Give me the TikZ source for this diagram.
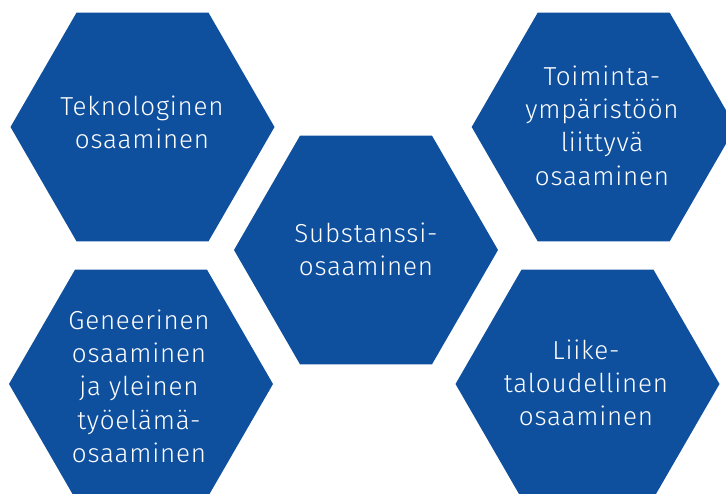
\documentclass[tikz,border=0pt]{standalone}
\usepackage{fontspec}
\setmainfont{Fira Sans Light}[LetterSpace=3]
\usetikzlibrary{shapes.geometric}
\definecolor{hexblue}{HTML}{0F509E}
\newcommand\hexlines[1]{\vtop{\baselineskip=33.4pt\lineskiplimit=-100pt\halign{\hfil##\hfil\cr#1\crcr}}}
\begin{document}
\begin{tikzpicture}[x=1pt,y=-1pt,
  hex/.style={regular polygon, regular polygon sides=6, minimum size=264pt, inner sep=0pt, outer sep=0pt, fill=hexblue, draw=none},
  lbl/.style={anchor=base, inner sep=0pt, text=white, font=\fontsize{26}{33.4}\selectfont}]
\useasboundingbox (0,0) rectangle (726,493);
\node[hex] (tek) at (142.5,127) {};
\node[hex] (sub) at (366,250) {};
\node[hex] (toi) at (603.7,127) {};
\node[hex] (gen) at (141,384) {};
\node[hex] (lii) at (587.5,384) {};
\node[lbl] (tekt) at (142,115) {\hexlines{Teknologinen\cr osaaminen}};
\node[lbl] (subt) at (366,242) {\hexlines{Substanssi-\cr osaaminen}};
\node[lbl] (toit) at (602,85) {\hexlines{Toiminta-\cr ympäristöön\cr liittyvä\cr osaaminen}};
\node[lbl] (gent) at (139,329) {\hexlines{Geneerinen\cr osaaminen\cr ja yleinen\cr työelämä-\cr osaaminen}};
\node[lbl] (liit) at (586,359) {\hexlines{Liike-\cr taloudellinen\cr osaaminen}};
\end{tikzpicture}
\end{document}
